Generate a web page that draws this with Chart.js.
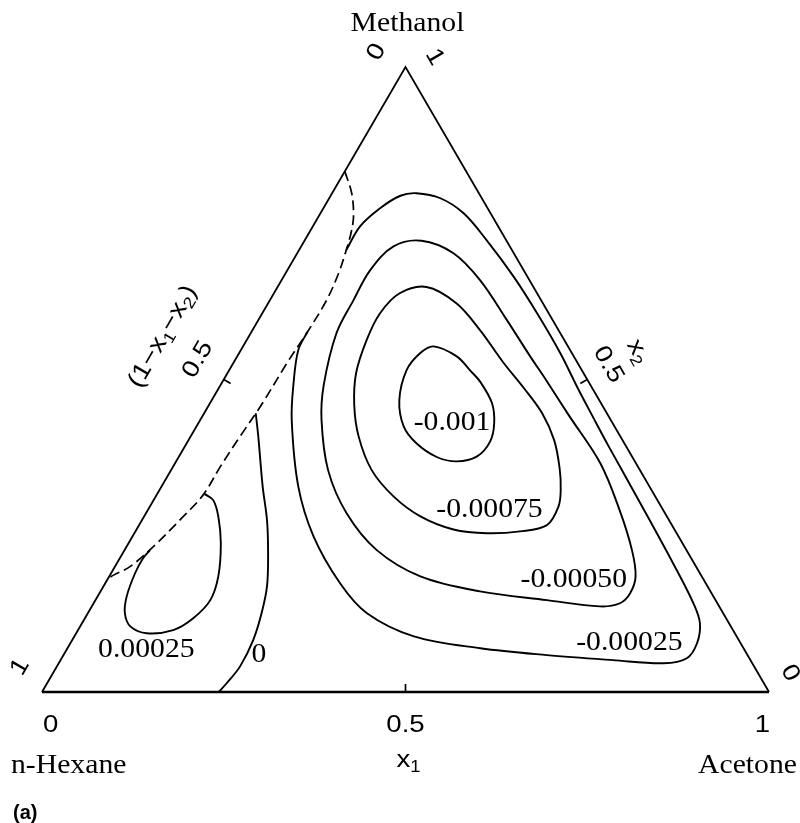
<!DOCTYPE html>
<html>
<head>
<meta charset="utf-8">
<script src="https://cdn.jsdelivr.net/npm/chart.js@4.4.0/dist/chart.umd.min.js"></script>
<style>
  body { margin: 0; background: #fff; }
  #chart { display: block; }
</style>
</head>
<body>
<canvas id="chart" width="800" height="823"></canvas>
<script>
// compositions are [x1, x2]  (x1 = acetone, x2 = methanol, rest = n-hexane)
const vertexNames = ['n-Hexane', 'Acetone', 'Methanol'];
const tickLabels = ['0', '0.5', '1'];
const contourLevels = ['0.00025', '0', '-0.00025', '-0.00050', '-0.00075', '-0.001'];

const triangleSides = [[1, 0], [0, 1], [0, 0]];
const triangleBase = [[0, 0], [1, 0]];

// dashed phase boundary
const phaseBoundary = [
  [0.000, 0.833], [0.027, 0.798], [0.048, 0.761], [0.058, 0.734], [0.065, 0.707],
  [0.073, 0.670], [0.078, 0.627], [0.077, 0.574], [0.074, 0.531], [0.072, 0.458],
  [0.068, 0.409], [0.065, 0.361], [0.064, 0.315], [0.052, 0.275], [0.037, 0.233],
  [0.021, 0.201], [0.005, 0.187], [0.000, 0.182]
];

const levelP00025 = [
  [0.065, 0.317], [0.082, 0.307], [0.102, 0.281], [0.127, 0.238], [0.150, 0.185],
  [0.158, 0.147], [0.149, 0.118], [0.131, 0.099], [0.097, 0.094], [0.069, 0.105],
  [0.051, 0.126], [0.040, 0.153], [0.033, 0.190], [0.032, 0.214], [0.035, 0.227]
];

const level0 = [
  [0.071, 0.446], [0.093, 0.409], [0.139, 0.329], [0.172, 0.275], [0.200, 0.222],
  [0.225, 0.169], [0.239, 0.126], [0.249, 0.083], [0.252, 0.041], [0.247, 0.014],
  [0.243, 0.000]
];

const levelM00025 = [
  [0.065, 0.707], [0.065, 0.745], [0.078, 0.774], [0.096, 0.794], [0.116, 0.798],
  [0.153, 0.790], [0.197, 0.766], [0.250, 0.723], [0.316, 0.665], [0.378, 0.606],
  [0.442, 0.542], [0.494, 0.486], [0.535, 0.443], [0.583, 0.393], [0.672, 0.302],
  [0.765, 0.206], [0.825, 0.142], [0.850, 0.110], [0.862, 0.078], [0.860, 0.054],
  [0.832, 0.046], [0.760, 0.051], [0.665, 0.059], [0.568, 0.070], [0.467, 0.089],
  [0.384, 0.126], [0.323, 0.174], [0.249, 0.249], [0.188, 0.329], [0.126, 0.435],
  [0.099, 0.494], [0.079, 0.547], [0.077, 0.576]
];

// closed loops: last point repeats the first
const levelM00050 = [
  [0.161, 0.722], [0.215, 0.702], [0.273, 0.659], [0.342, 0.595], [0.403, 0.537],
  [0.445, 0.498], [0.503, 0.443], [0.585, 0.366], [0.649, 0.291], [0.698, 0.227],
  [0.724, 0.185], [0.730, 0.158], [0.724, 0.142], [0.699, 0.137], [0.621, 0.147],
  [0.522, 0.161], [0.428, 0.185], [0.347, 0.227], [0.276, 0.286], [0.216, 0.355],
  [0.167, 0.435], [0.142, 0.491], [0.118, 0.574], [0.115, 0.627], [0.114, 0.675],
  [0.127, 0.713], [0.161, 0.722]
];

const levelM00075 = [
  [0.205, 0.648], [0.259, 0.622], [0.313, 0.579], [0.370, 0.528], [0.420, 0.486],
  [0.465, 0.446], [0.503, 0.403], [0.533, 0.358], [0.552, 0.323], [0.562, 0.297],
  [0.561, 0.267], [0.529, 0.257], [0.485, 0.254], [0.436, 0.260], [0.380, 0.281],
  [0.327, 0.313], [0.276, 0.355], [0.231, 0.409], [0.200, 0.459], [0.177, 0.510],
  [0.165, 0.563], [0.162, 0.606], [0.173, 0.638], [0.205, 0.648]
];

const levelM001 = [
  [0.262, 0.553], [0.302, 0.537], [0.331, 0.515], [0.355, 0.496], [0.388, 0.462],
  [0.407, 0.430], [0.416, 0.401], [0.410, 0.377], [0.386, 0.369], [0.355, 0.376],
  [0.316, 0.398], [0.285, 0.425], [0.258, 0.467], [0.244, 0.515], [0.249, 0.542],
  [0.262, 0.553]
];

// where each level's number sits, same order as contourLevels
const contourLabelAt = [
  [0.110, 0.067], [0.269, 0.059], [0.769, 0.078], [0.642, 0.179], [0.470, 0.291], [0.349, 0.430]
];

// ternary -> plane (equilateral layout, y = x2)
function toXY(c) {
  return { x: c[0] + c[1] / 2, y: c[1] };
}

function lineSet(points, opts) {
  return Object.assign({
    data: points.map(toXY),
    showLine: true,
    borderColor: '#000',
    borderWidth: 1.9,
    pointRadius: 0,
    tension: 0.35,
    clip: false
  }, opts || {});
}

// closed loop: wrap one point each side so the spline is smooth at the seam,
// and hide the two helper segments
function loopSet(points) {
  const n = points.length;
  const wrapped = [points[n - 2]].concat(points, [points[1]]);
  const last = wrapped.length - 1;
  return lineSet(wrapped, {
    segment: {
      borderColor: ctx => (ctx.p0DataIndex === 0 || ctx.p1DataIndex === last) ? 'rgba(0,0,0,0)' : '#000'
    }
  });
}

const SERIF = '"Liberation Serif", "Times New Roman", serif';
const SANS = '"Liberation Sans", Arial, sans-serif';

function drawText(ctx, text, x, y, o) {
  ctx.save();
  ctx.translate(x, y);
  ctx.rotate((o.rot || 0) * Math.PI / 180);
  ctx.scale(o.sx || 1, 1);
  ctx.font = o.font;
  ctx.textAlign = o.align || 'center';
  ctx.textBaseline = 'middle';
  ctx.fillStyle = '#000';
  ctx.fillText(text, 0, 0);
  ctx.restore();
}

// text with subscripts, segs = [[text, isSub], ...]
function drawRich(ctx, segs, x, y, size, rot, sx) {
  const sub = Math.round(size * 0.68);
  ctx.save();
  ctx.translate(x, y);
  ctx.rotate(rot * Math.PI / 180);
  ctx.scale(sx, 1);
  ctx.textBaseline = 'middle';
  ctx.textAlign = 'left';
  ctx.fillStyle = '#000';
  let total = 0;
  segs.forEach(s => {
    ctx.font = (s[1] ? sub : size) + 'px ' + SANS;
    total += ctx.measureText(s[0]).width;
  });
  let cx = -total / 2;
  segs.forEach(s => {
    ctx.font = (s[1] ? sub : size) + 'px ' + SANS;
    ctx.fillText(s[0], cx, s[1] ? size * 0.3 : 0);
    cx += ctx.measureText(s[0]).width;
  });
  ctx.restore();
}

const ternaryText = {
  id: 'ternaryText',
  afterDatasetsDraw(chart) {
    const ctx = chart.ctx;
    const xs = chart.scales.x, ys = chart.scales.y;
    const P = c => {
      const p = toXY(c);
      return { x: xs.getPixelForValue(p.x), y: ys.getPixelForValue(p.y) };
    };
    const L = P([0, 0]), R = P([1, 0]), T = P([0, 1]);
    const midB = P([0.5, 0]), midL = P([0, 0.5]), midR = P([0.5, 0.5]);

    // edge ticks at 0.5
    ctx.save();
    ctx.strokeStyle = '#000';
    ctx.lineWidth = 1.7;
    ctx.beginPath();
    ctx.moveTo(midB.x, midB.y); ctx.lineTo(midB.x, midB.y - 8);
    ctx.moveTo(midL.x, midL.y); ctx.lineTo(midL.x + 8 * 0.866, midL.y + 8 * 0.5);
    ctx.moveTo(midR.x, midR.y); ctx.lineTo(midR.x - 8 * 0.866, midR.y + 8 * 0.5);
    ctx.stroke();
    ctx.restore();

    const serif = '27px ' + SERIF;
    const sans = '24px ' + SANS;

    // vertex names
    drawText(ctx, vertexNames[2], T.x + 2, T.y - 43, { font: serif, sx: 1.1 });
    drawText(ctx, vertexNames[0], L.x - 31, L.y + 74, { font: serif, sx: 1.1, align: 'left' });
    drawText(ctx, vertexNames[1], R.x + 28, R.y + 74, { font: serif, sx: 1.1, align: 'right' });

    // x1 along the base
    drawText(ctx, tickLabels[0], L.x + 1, L.y + 33, { font: sans, sx: 1.15, align: 'left' });
    drawText(ctx, tickLabels[1], midB.x, midB.y + 33, { font: sans, sx: 1.15 });
    drawText(ctx, tickLabels[2], R.x + 1, R.y + 33, { font: sans, sx: 1.15, align: 'right' });
    drawRich(ctx, [['x', false], ['1', true]], midB.x + 3, midB.y + 68, 24, 0, 1.15);

    // (1-x1-x2) along the left side
    drawText(ctx, tickLabels[0], T.x - 29, T.y - 15, { font: sans, sx: 1.15, rot: -60 });
    drawText(ctx, tickLabels[1], midL.x - 26, midL.y - 20, { font: sans, sx: 1.15, rot: -60 });
    drawText(ctx, tickLabels[2], L.x - 22, L.y - 25, { font: sans, sx: 1.15, rot: -60 });
    drawRich(ctx, [['(1\u2212x', false], ['1', true], ['\u2212x', false], ['2', true], [')', false]],
      midL.x - 61, midL.y - 43, 24, -60, 1.15);

    // x2 along the right side
    drawText(ctx, tickLabels[2], T.x + 29, T.y - 10, { font: sans, sx: 1.15, rot: 60 });
    drawText(ctx, tickLabels[1], midR.x + 21, midR.y - 15, { font: sans, sx: 1.15, rot: 60 });
    drawText(ctx, tickLabels[0], R.x + 21, R.y - 19, { font: sans, sx: 1.15, rot: 60 });
    drawRich(ctx, [['x', false], ['2', true]], midR.x + 51, midR.y - 28, 24, 60, 1.15);

    // contour values
    contourLevels.forEach((lv, i) => {
      const p = P(contourLabelAt[i]);
      drawText(ctx, lv, p.x, p.y, { font: serif, sx: 1.1 });
    });

    drawText(ctx, '(a)', L.x - 29, L.y + 121, { font: 'bold 20px ' + SANS, align: 'left' });
  }
};

new Chart(document.getElementById('chart'), {
  type: 'scatter',
  data: {
    datasets: [
      lineSet(triangleSides, { tension: 0, borderWidth: 1.8 }),
      lineSet(triangleBase, { tension: 0, borderWidth: 2.6 }),
      lineSet(phaseBoundary, { borderDash: [10, 5], borderWidth: 1.7 }),
      lineSet(levelP00025),
      lineSet(level0),
      lineSet(levelM00025),
      loopSet(levelM00050),
      loopSet(levelM00075),
      loopSet(levelM001)
    ]
  },
  options: {
    responsive: false,
    animation: false,
    layout: { padding: { left: 42, right: 31, top: 67, bottom: 131 } },
    scales: {
      x: { type: 'linear', min: 0, max: 1, display: false },
      y: { type: 'linear', min: 0, max: 1, display: false }
    },
    plugins: {
      legend: { display: false },
      tooltip: { enabled: false }
    }
  },
  plugins: [ternaryText]
});
</script>
</body>
</html>
